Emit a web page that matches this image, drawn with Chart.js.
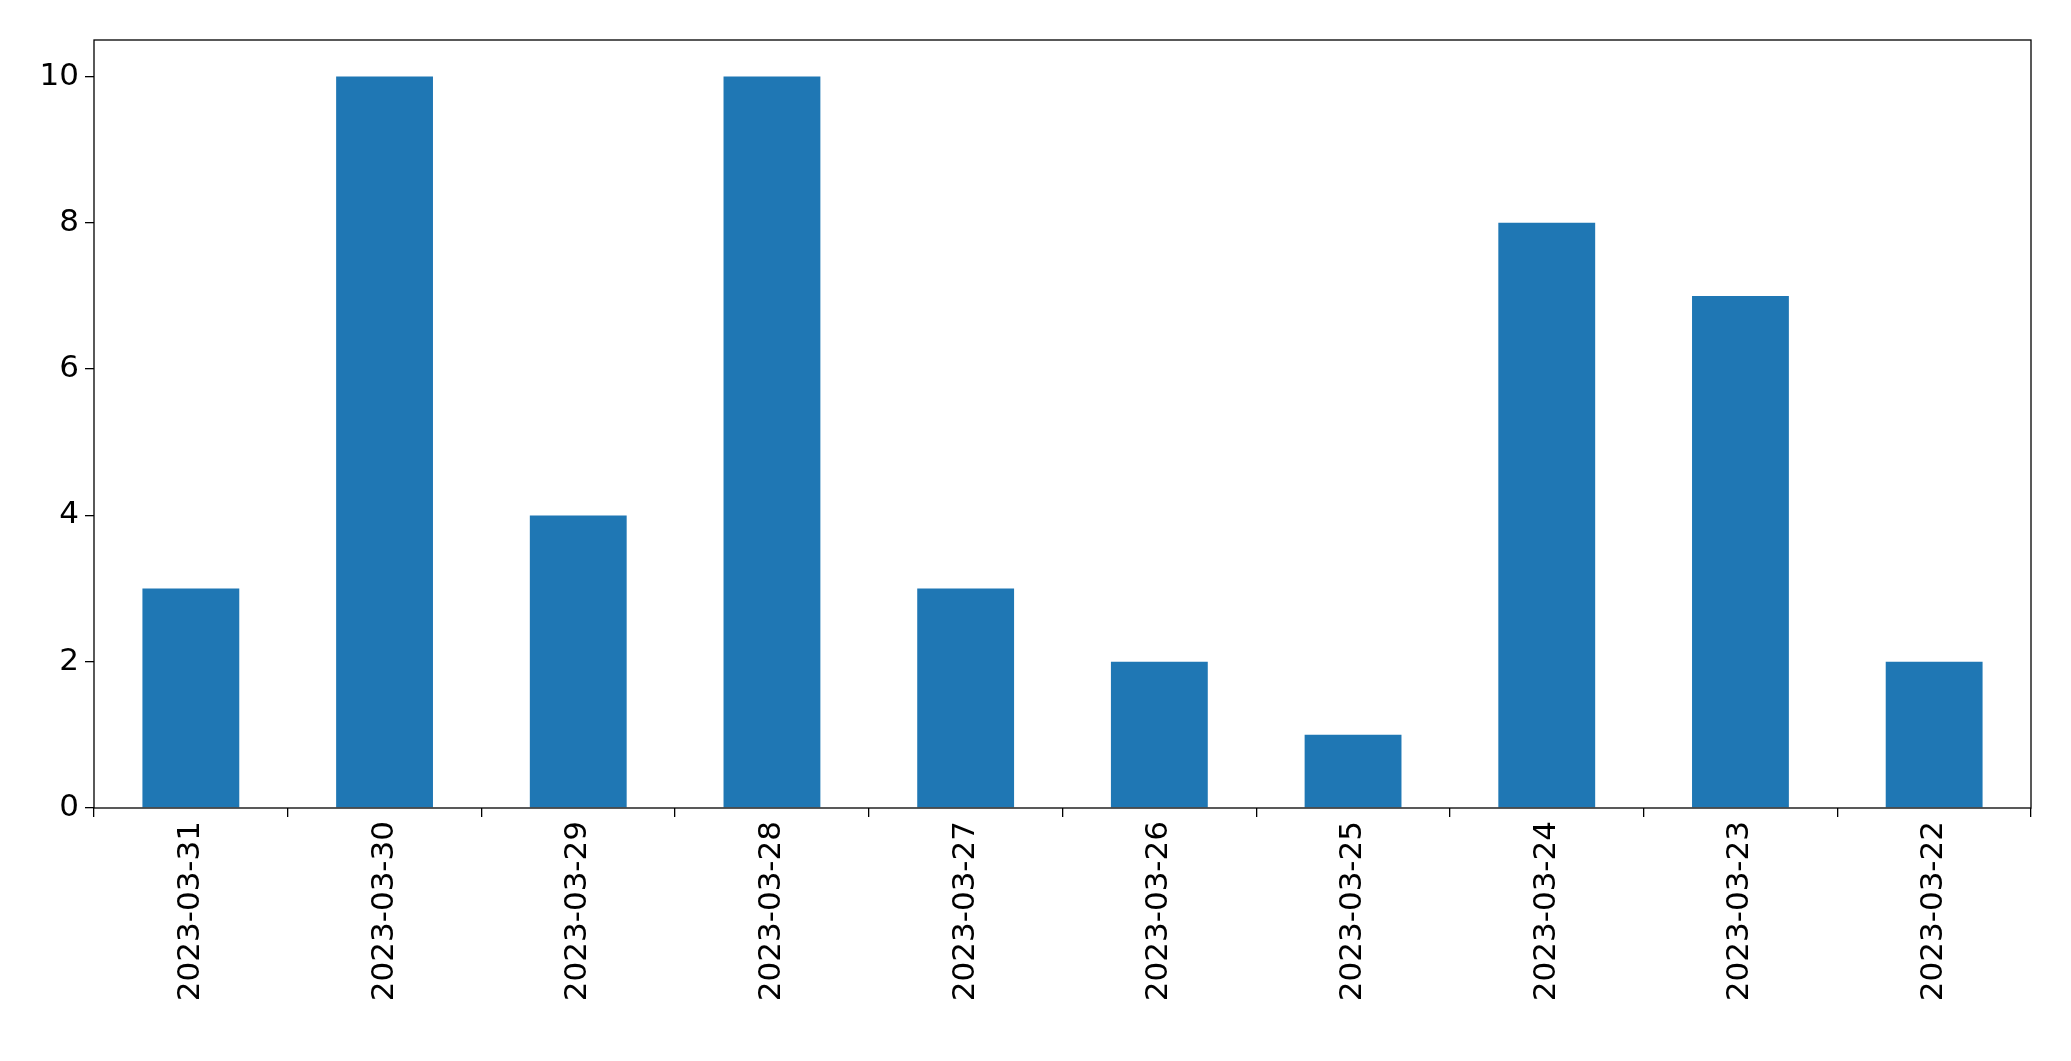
<!DOCTYPE html>
<html>
<head>
<meta charset="utf-8">
<script src="https://cdn.jsdelivr.net/npm/chart.js@4"></script>
<style>
  html, body { margin:0; padding:0; background:#fff; }
  #wrap { width:2071px; height:1061px; }
</style>
</head>
<body>
<div id="wrap"><canvas id="c" width="2071" height="1061"></canvas></div>
<script>
/* ── Data ── */
const dates  = ['2023-03-31','2023-03-30','2023-03-29','2023-03-28','2023-03-27',
                '2023-03-26','2023-03-25','2023-03-24','2023-03-23','2023-03-22'];
const counts = [3, 10, 4, 10, 3, 2, 1, 8, 7, 2];
const yTicks = [0, 2, 4, 6, 8, 10];

/* frame around plot area, matplotlib style */
const frame = {
  id: 'frame',
  afterDraw(chart) {
    const { ctx, chartArea: a } = chart;
    ctx.save();
    ctx.strokeStyle = '#000';
    ctx.lineWidth = 1.3;
    ctx.strokeRect(a.left, a.top, a.right - a.left, a.bottom - a.top);
    ctx.restore();
  },
};

Chart.defaults.font.family = "'DejaVu Sans', sans-serif";
Chart.defaults.color = '#000';

new Chart(document.getElementById('c'), {
  type: 'bar',
  data: {
    labels: dates,
    datasets: [{
      data: counts,
      backgroundColor: '#1f77b4',
      categoryPercentage: 1,
      barPercentage: 0.5,
    }],
  },
  options: {
    responsive: false, animation: false,
    layout: { padding: { top: 40, right: 40, left: 0, bottom: 0 } },
    plugins: { legend: { display:false }, tooltip: { enabled:false } },
    scales: {
      x: {
        grid: { display:true, drawOnChartArea:false, tickLength:9, color:'#000', lineWidth:1.3 },
        border: { display:false },
        ticks: { font:{ size:31 }, maxRotation:90, minRotation:90, padding:4 },
        afterFit: s => { s.height = 253; },
      },
      y: {
        min: 0, max: 10.5,
        afterBuildTicks: s => { s.ticks = yTicks.map(v => ({ value:v })); },
        grid: { display:true, drawOnChartArea:false, tickLength:9, color:'#000', lineWidth:1.3 },
        border: { display:false },
        ticks: { font:{ size:31 }, padding:6 },
        afterFit: s => { s.width = 94; },
      },
    },
  },
  plugins: [frame],
});
</script>
</body>
</html>
